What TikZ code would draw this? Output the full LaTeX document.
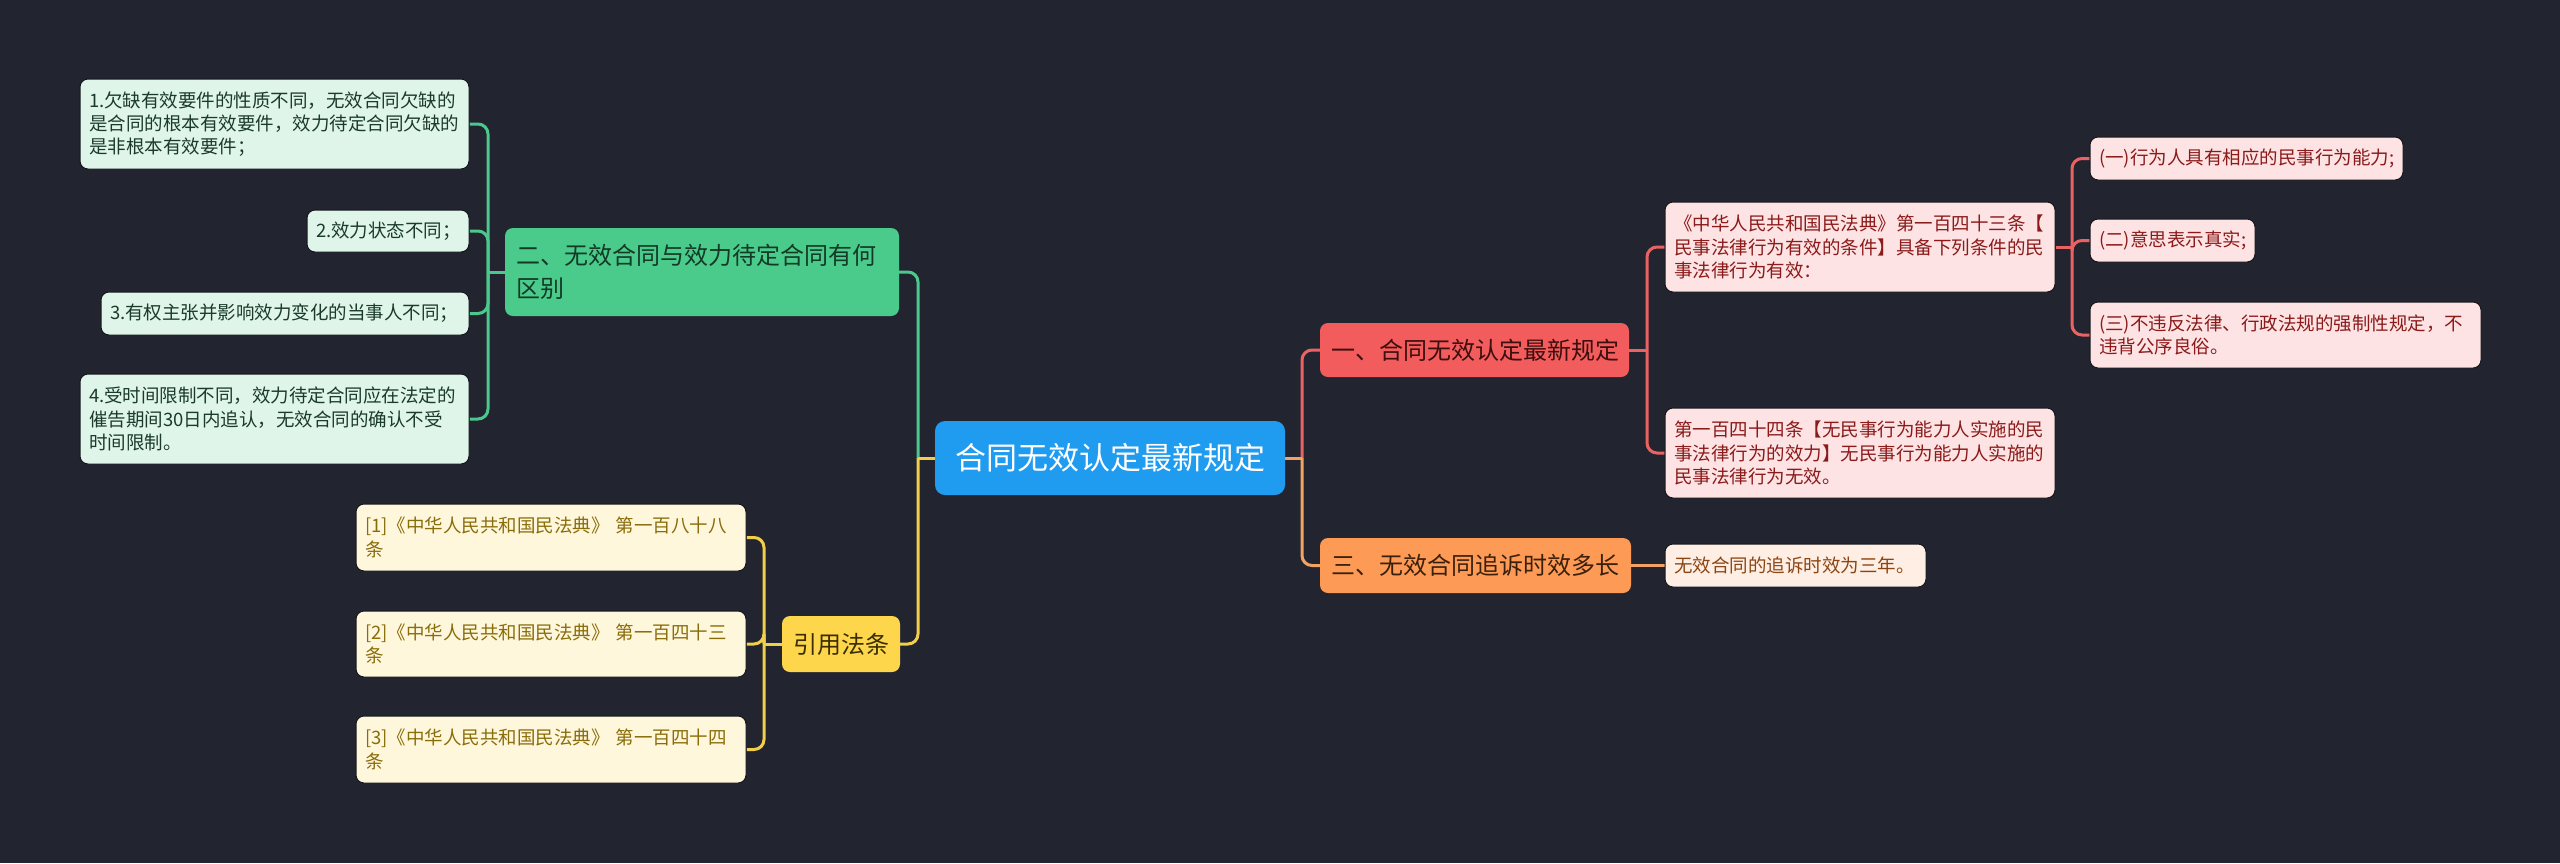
\documentclass[tikz,border=0pt]{standalone}
\usepackage{fontspec}
\newfontfamily\cjk{Noto Sans CJK SC}
\definecolor{bgc}{HTML}{222530}
\definecolor{rootc}{HTML}{1F9BF0}
\definecolor{redc}{HTML}{F25C5C}
\definecolor{redtxt}{HTML}{3D0E0E}
\definecolor{redleaf}{HTML}{FDE3E3}
\definecolor{redleaftxt}{HTML}{8B1A1A}
\definecolor{redline}{HTML}{EA6262}
\definecolor{orc}{HTML}{FD9A55}
\definecolor{ortxt}{HTML}{3A200B}
\definecolor{orleaf}{HTML}{FFEEE3}
\definecolor{orleaftxt}{HTML}{8B4513}
\definecolor{orline}{HTML}{F2A263}
\definecolor{grc}{HTML}{4ACB8C}
\definecolor{grtxt}{HTML}{123A25}
\definecolor{grleaf}{HTML}{DFF5EA}
\definecolor{grleaftxt}{HTML}{1B3A2A}
\definecolor{grline}{HTML}{4BC98C}
\definecolor{yec}{HTML}{FDD64C}
\definecolor{yetxt}{HTML}{3A2E00}
\definecolor{yeleaf}{HTML}{FFF7DC}
\definecolor{yeleaftxt}{HTML}{8A6D0B}
\definecolor{yeline}{HTML}{F2CF4A}
\definecolor{edgec}{HTML}{14161C}
\pgfdeclarelayer{back}
\pgfdeclarelayer{conn}
\pgfsetlayers{back,conn,main}
\tikzset{
  rootbox/.style={rounded corners=10, fill=rootc, text=white, inner sep=0, align=center,
    font=\cjk\fontsize{31}{36}\selectfont},
  mainbox/.style={rounded corners=8, inner xsep=11, inner ysep=0, align=left,
    font=\cjk\fontsize{24}{33}\selectfont},
  leafbox/.style={rounded corners=8, inner xsep=9, inner ysep=0, align=left, draw=edgec, line width=1,
    font=\cjk\fontsize{18.5}{23.3}\selectfont},
  conn/.style={line width=3},
  elbow/.style={line width=3, rounded corners=10},
}
\begin{document}
\begin{tikzpicture}[x=1pt,y=-1pt]
\begin{pgfonlayer}{back}
\fill[bgc] (0,0) rectangle (2560,863);
\end{pgfonlayer}
\useasboundingbox (0,0) rectangle (2560,863);

% root
\node[rootbox, minimum width=350, minimum height=74] (root) at (1110,458) {合同无效认定最新规定};

% level 1
\node[mainbox, fill=redc, text=redtxt, minimum width=309, minimum height=54, text width=287] (n1) at (1474.5,350) {一、合同无效认定最新规定};
\node[mainbox, fill=orc, text=ortxt, minimum width=311, minimum height=55, text width=289] (n3) at (1475.5,565.5) {三、无效合同追诉时效多长};
\node[mainbox, fill=grc, text=grtxt, minimum width=394, minimum height=88, text width=372] (n2) at (702,272) {二、无效合同与效力待定合同有何\\区别};
\node[mainbox, fill=yec, text=yetxt, minimum width=118, minimum height=56, text width=96] (nr) at (841,644) {引用法条};

% green leaves
\node[leafbox, fill=grleaf, text=grleaftxt, minimum height=90, text width=371] (g1) at (274.5,124) {1.欠缺有效要件的性质不同，无效合同欠缺的\\是合同的根本有效要件，效力待定合同欠缺的\\是非根本有效要件；};
\node[leafbox, fill=grleaf, text=grleaftxt, minimum height=42, text width=144] (g2) at (388,231) {2.效力状态不同；};
\node[leafbox, fill=grleaf, text=grleaftxt, minimum height=43, text width=350] (g3) at (285,313.5) {3.有权主张并影响效力变化的当事人不同；};
\node[leafbox, fill=grleaf, text=grleaftxt, minimum height=90, text width=371] (g4) at (274.5,419) {4.受时间限制不同，效力待定合同应在法定的\\催告期间30日内追认，无效合同的确认不受\\时间限制。};

% yellow refs
\node[leafbox, fill=yeleaf, text=yeleaftxt, minimum height=67, text width=372] (r1) at (551,537.5) {[1]《中华人民共和国民法典》 第一百八十八\\条};
\node[leafbox, fill=yeleaf, text=yeleaftxt, minimum height=66, text width=372] (r2) at (551,644) {[2]《中华人民共和国民法典》 第一百四十三\\条};
\node[leafbox, fill=yeleaf, text=yeleaftxt, minimum height=67, text width=372] (r3) at (551,749.5) {[3]《中华人民共和国民法典》 第一百四十四\\条};

% red leaves
\node[leafbox, fill=redleaf, text=redleaftxt, minimum height=90, text width=372] (a1) at (1860,247) {《中华人民共和国民法典》第一百四十三条【\\民事法律行为有效的条件】具备下列条件的民\\事法律行为有效：};
\node[leafbox, fill=redleaf, text=redleaftxt, minimum height=90, text width=372] (a2) at (1860,453) {第一百四十四条【无民事行为能力人实施的民\\事法律行为的效力】无民事行为能力人实施的\\民事法律行为无效。};
\node[leafbox, fill=redleaf, text=redleaftxt, minimum height=43, text width=295] (b1) at (2246.5,158.5) {(一)行为人具有相应的民事行为能力;};
\node[leafbox, fill=redleaf, text=redleaftxt, minimum height=43, text width=147] (b2) at (2172.5,240.5) {(二)意思表示真实;};
\node[leafbox, fill=redleaf, text=redleaftxt, minimum height=66, text width=373] (b3) at (2285.5,335) {(三)不违反法律、行政法规的强制性规定，不\\违背公序良俗。};

% orange leaf
\node[leafbox, fill=orleaf, text=orleaftxt, minimum height=43, text width=243] (c1) at (1795.5,565.5) {无效合同的追诉时效为三年。};

% junctions
\coordinate (jr) at (1302,458);
\coordinate (jl) at (918,458);
\coordinate (j1) at (1647,350);
\coordinate (ja) at (2072,247);
\coordinate (jg) at (488,272);
\coordinate (jy) at (764,644);

\begin{pgfonlayer}{conn}
% root right
\draw[elbow, redline] (jr) |- (n1.west);
\draw[elbow, orline] (jr) |- (n3.west);
\draw[conn, orline] (root.east) -- (jr);
% root left
\draw[elbow, grline] (jl) |- (n2.east);
\draw[elbow, yeline] (jl) |- (nr.east);
\draw[conn, yeline] (root.west) -- (jl);
% n1 children
\draw[conn, redline] (n1.east) -- (j1);
\draw[elbow, redline] (j1) |- (a1.west);
\draw[elbow, redline] (j1) |- (a2.west);
% a1 children
\draw[conn, redline] (a1.east) -- (ja);
\draw[elbow, redline] (ja) |- (b1.west);
\draw[elbow, redline] (ja) |- (b2.west);
\draw[elbow, redline] (ja) |- (b3.west);
% n3 child
\draw[conn, orline] (n3.east) -- (c1.west);
% n2 children
\draw[conn, grline] (n2.west) -- (jg);
\draw[elbow, grline] (jg) |- (g1.east);
\draw[elbow, grline] (jg) |- (g2.east);
\draw[elbow, grline] (jg) |- (g3.east);
\draw[elbow, grline] (jg) |- (g4.east);
% refs
\draw[conn, yeline] (nr.west) -- (jy);
\draw[elbow, yeline] (jy) |- (r1.east);
\draw[elbow, yeline] (jy) |- (r2.east);
\draw[elbow, yeline] (jy) |- (r3.east);
\end{pgfonlayer}
\end{tikzpicture}
\end{document}
